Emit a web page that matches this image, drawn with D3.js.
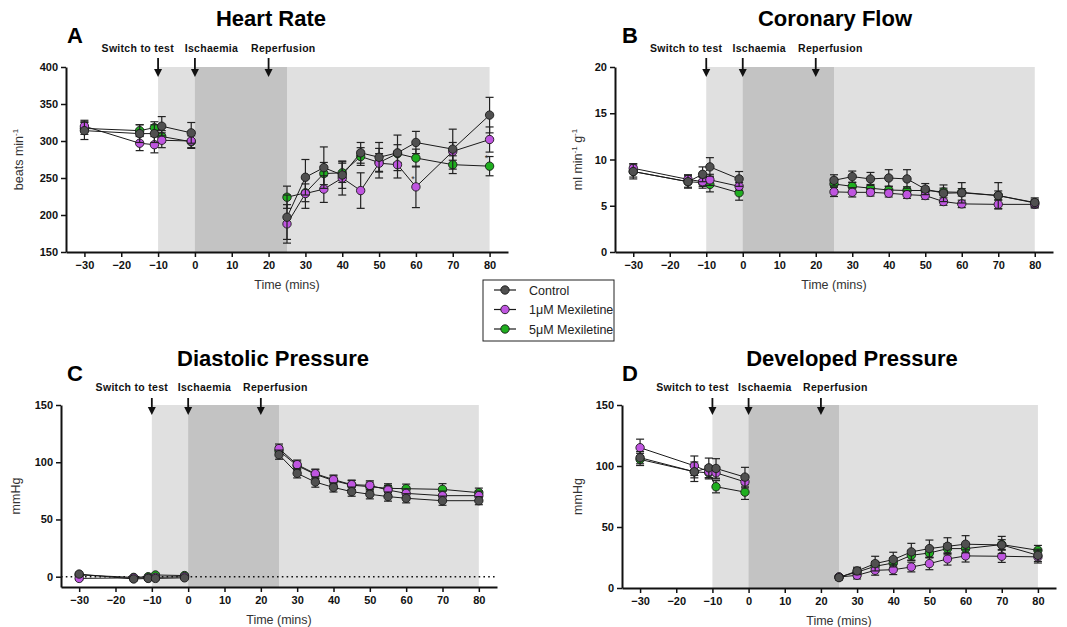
<!DOCTYPE html>
<html>
<meta charset="utf-8">
<style>
body { margin: 0; background: #fff; }
svg text { font-family: "Liberation Sans", Arial, sans-serif; }
.axis text { font-weight: bold; font-size: 11px; fill: #111; }
.axis path, .axis line { stroke: #111; }
</style>
<body>
<svg width="1067" height="627"></svg>
<script src="https://d3js.org/d3.v7.min.js"></script>
<script>

// ---- data ----
var times = [-30, -15, -11, -9, -1, 25, 30, 35, 40, 45, 50, 55, 60, 70, 80];
var seriesNames = ["Control", "1\u03bcM Mexiletine", "5\u03bcM Mexiletine"];
var xTicks = [-30, -20, -10, 0, 10, 20, 30, 40, 50, 60, 70, 80];
var eventNames = ["Switch to test", "Ischaemia", "Reperfusion"];
var eventTimes = [-10, 0, 20];

// heart rate (beats/min)
var hrControl    = [314, 310, 310, 320, 311, 197, 251, 264, 254, 284, 278, 284, 298, 289, 335];
var hrControlErr = [12, 12, 12, 13, 14, 30, 24, 28, 18, 14, 20, 24, 15, 27, 24];
var hrMex1       = [320, 297, 295, 301, 300, 188, 229, 235, 250, 233, 270, 268, 238, 286, 302];
var hrMex1Err    = [8, 10, 11, 10, 10, 26, 20, 18, 23, 24, 20, 18, 28, 12, 17];
var hrMex5       = [317, 314, 318, 306, 299, 224, 230, 256, 257, 279, 271, 283, 277, 268, 266];
var hrMex5Err    = [8, 8, 8, 8, 8, 15, 12, 15, 13, 12, 12, 12, 12, 12, 13];

// coronary flow (ml/min/g)
var cfControl    = [8.7, 7.6, 8.4, 9.2, 7.9, 7.75, 8.15, 7.9, 8.0, 7.9, 6.8, 6.35, 6.4, 6.1, 5.35];
var cfControlErr = [0.8, 0.7, 0.8, 1.0, 0.8, 0.6, 0.6, 0.7, 0.9, 1.0, 0.6, 0.9, 1.1, 1.4, 0.5];
var cfMex1       = [9.05, 7.85, 7.6, 7.8, 7.1, 6.5, 6.45, 6.45, 6.35, 6.2, 6.1, 5.45, 5.2, 5.15, 5.15];
var cfMex1Err    = [0.5, 0.5, 0.5, 0.6, 0.4, 0.5, 0.5, 0.4, 0.4, 0.4, 0.4, 0.4, 0.4, 0.5, 0.4];
var cfMex5       = [8.7, 7.6, 7.5, 7.3, 6.4, 7.35, 7.1, 6.9, 6.7, 6.65, 6.65, 6.5, 6.45, 6.1, 5.3];
var cfMex5Err    = [0.6, 0.6, 0.6, 0.8, 0.8, 0.6, 0.4, 0.4, 0.4, 0.4, 0.4, 0.4, 0.4, 0.5, 0.4];

// diastolic pressure (mmHg)
var dpControl    = [2.3, -2, -1.5, -1.5, -1, 106.6, 90.3, 82.7, 78, 74.3, 72, 70, 68.5, 66.4, 66.4];
var dpControlErr = [1.5, 1.5, 1.2, 1.2, 1.2, 4, 4, 4.5, 4, 4, 4, 4, 4, 4, 3.5];
var dpMex1       = [-1.5, -1, -1, -0.5, 0, 111.9, 97.9, 90, 84.8, 80.4, 79.8, 75.7, 72.8, 70.8, 70.8];
var dpMex1Err    = [1.2, 1.2, 1, 1, 1, 4, 4, 4, 4, 4, 4, 4, 4, 4, 4];
var dpMex5       = [1.5, -0.6, 0, 1.5, 1, 110, 97, 89.4, 84, 80, 78.6, 77.2, 76.9, 76.3, 73.4];
var dpMex5Err    = [1.2, 1.2, 1, 1, 1, 4, 4, 4, 4, 4, 4, 4, 4, 5, 4];

// developed pressure (mmHg)
var devControl    = [106.8, 95.3, 98.5, 98, 90.9, 8.5, 14, 20, 23.3, 29.6, 32.3, 34.2, 35.9, 35.3, 26.8];
var devControlErr = [5, 8, 8, 8, 8, 2, 3, 6, 6, 7, 7, 7, 7, 7, 5];
var devMex1       = [115, 100.2, 95.3, 94.4, 87, 9, 10.4, 14.5, 15, 17.2, 20, 23.8, 26.3, 26, 25.5];
var devMex1Err    = [7, 8, 5, 5, 5, 2, 3, 4, 4, 4, 5, 5, 5, 5, 5];
var devMex5       = [105.4, 95.3, 94.4, 83, 78.6, 9, 13, 17.8, 20.5, 26.8, 28.7, 32.3, 32.3, 35.6, 30.9];
var devMex5Err    = [5, 5, 5, 5, 6, 2, 3, 4, 4, 4, 4, 4, 4, 4, 4];

// ---- styling ----
var colors = ["#505050", "#bf55e0", "#1fae1f"];

var svg = d3.select("svg");

var panels = [
  { letter: "A", title: "Heart Rate", left: 66, right: 508, top: 67, bottom: 252,
    yDomain: [150, 400], yTicks: [150, 200, 250, 300, 350, 400],
    ylabel: [["beats min", ""], ["-1", "sup"]], ylabelX: 23,
    titleX: 271, titleY: 26, letterX: 67, letterY: 43, eventY: 52, arrowTop: 58, arrowBot: 77,
    series: [[hrControl, hrControlErr], [hrMex1, hrMex1Err], [hrMex5, hrMex5Err]],
    stars: [[1, 60], [2, 80]] },
  { letter: "B", title: "Coronary Flow", left: 615, right: 1053, top: 67, bottom: 252,
    yDomain: [0, 20], yTicks: [0, 5, 10, 15, 20],
    ylabel: [["ml min", ""], ["-1", "sup"], [" g", ""], ["-1", "sup"]], ylabelX: 582,
    titleX: 835, titleY: 26, letterX: 622, letterY: 43, eventY: 52, arrowTop: 58, arrowBot: 77,
    series: [[cfControl, cfControlErr], [cfMex1, cfMex1Err], [cfMex5, cfMex5Err]], stars: [] },
  { letter: "C", title: "Diastolic Pressure", left: 61, right: 497, top: 405, bottom: 587,
    yDomain: [-9, 150], yTicks: [0, 50, 100, 150], zeroLine: true,
    ylabel: [["mmHg", ""]], ylabelX: 20,
    titleX: 273, titleY: 366, letterX: 67, letterY: 381, eventY: 391, arrowTop: 398, arrowBot: 415,
    series: [[dpControl, dpControlErr], [dpMex1, dpMex1Err], [dpMex5, dpMex5Err]], stars: [] },
  { letter: "D", title: "Developed Pressure", left: 622, right: 1056, top: 405, bottom: 588,
    yDomain: [0, 150], yTicks: [0, 50, 100, 150],
    ylabel: [["mmHg", ""]], ylabelX: 582,
    titleX: 852, titleY: 366, letterX: 622, letterY: 381, eventY: 391, arrowTop: 398, arrowBot: 415,
    series: [[devControl, devControlErr], [devMex1, devMex1Err], [devMex5, devMex5Err]], stars: [] }
];

var eventLabelAt = [-15.5, 4.5, 24];

panels.forEach(drawPanel);

function drawPanel(p) {
  var x = d3.scaleLinear().domain([-35, 85]).range([p.left, p.right]);
  var y = d3.scaleLinear().domain(p.yDomain).range([p.bottom, p.top]);
  var yMax = p.yDomain[1];
  var g = svg.append("g");

  // shaded protocol periods
  g.append("rect")
      .attr("x", x(-10)).attr("y", y(yMax))
      .attr("width", x(80) - x(-10)).attr("height", y(p.yDomain[0]) - y(yMax))
      .attr("fill", "#e0e0e0");
  g.append("rect")
      .attr("x", x(0)).attr("y", y(yMax))
      .attr("width", x(25) - x(0)).attr("height", y(p.yDomain[0]) - y(yMax))
      .attr("fill", "#c3c3c3");

  if (p.zeroLine) {
    g.append("line")
        .attr("x1", p.left).attr("x2", p.right)
        .attr("y1", y(0)).attr("y2", y(0))
        .attr("stroke", "#111").attr("stroke-width", 1.6)
        .attr("stroke-dasharray", "1.6,3.2");
  }

  // axes
  g.append("g").attr("class", "axis")
      .attr("transform", "translate(0," + p.bottom + ")")
      .call(d3.axisBottom(x).tickValues(xTicks).tickSize(5).tickSizeOuter(0).tickPadding(4))
      .call(function(a) { a.select(".domain").attr("stroke-width", 2); a.selectAll(".tick line").attr("stroke-width", 1.5); });
  g.append("g").attr("class", "axis")
      .attr("transform", "translate(" + p.left + ",0)")
      .call(d3.axisLeft(y).tickValues(p.yTicks).tickSize(5).tickSizeOuter(0).tickPadding(3))
      .call(function(a) { a.select(".domain").attr("stroke-width", 2); a.selectAll(".tick line").attr("stroke-width", 1.5); });

  // axis titles
  g.append("text")
      .attr("x", (p.left + p.right) / 2).attr("y", p.bottom + 37)
      .attr("text-anchor", "middle").attr("font-size", 12.5).attr("fill", "#333")
      .text("Time (mins)");
  var yl = g.append("text")
      .attr("transform", "translate(" + p.ylabelX + "," + ((p.top + p.bottom) / 2) + ") rotate(-90)")
      .attr("text-anchor", "middle").attr("font-size", 12.5).attr("fill", "#333");
  p.ylabel.forEach(function(part) {
    var t = yl.append("tspan").text(part[0]);
    if (part[1] === "sup") t.attr("font-size", 8).attr("dy", -5);
    else if (yl.selectAll("tspan").size() > 1) t.attr("dy", 5);
  });

  // titles
  g.append("text").attr("x", p.titleX).attr("y", p.titleY)
      .attr("text-anchor", "middle").attr("font-size", 22).attr("font-weight", "bold")
      .text(p.title);
  g.append("text").attr("x", p.letterX).attr("y", p.letterY)
      .attr("font-size", 22).attr("font-weight", "bold").text(p.letter);

  // event arrows
  eventNames.forEach(function(name, i) {
    g.append("text").attr("x", x(eventLabelAt[i])).attr("y", p.eventY)
        .attr("text-anchor", "middle").attr("font-size", 10.5).attr("font-weight", "bold")
        .attr("letter-spacing", 0.3).attr("fill", "#111").text(name);
    var ax = x(eventTimes[i]);
    g.append("line").attr("x1", ax).attr("x2", ax)
        .attr("y1", p.arrowTop).attr("y2", p.arrowBot - 6)
        .attr("stroke", "#111").attr("stroke-width", 1.8);
    g.append("path")
        .attr("d", "M" + (ax - 4) + "," + (p.arrowBot - 8) + "L" + (ax + 4) + "," + (p.arrowBot - 8) + "L" + ax + "," + p.arrowBot + "Z")
        .attr("fill", "#111");
  });

  // series: draw 5uM first, control last (on top)
  var line = d3.line().x(function(d) { return x(d.t); }).y(function(d) { return y(d.v); });
  [2, 1, 0].forEach(function(si) {
    var vals = p.series[si][0], errs = p.series[si][1];
    var pts = times.map(function(t, i) { return { t: t, v: vals[i], e: errs[i] }; });
    var sg = g.append("g");
    [pts.filter(function(d) { return d.t < 0; }), pts.filter(function(d) { return d.t > 0; })].forEach(function(seg) {
      sg.append("path").attr("d", line(seg)).attr("fill", "none")
          .attr("stroke", "#1a1a1a").attr("stroke-width", 1);
    });
    var eb = sg.selectAll(".eb").data(pts).enter().append("g");
    eb.append("line")
        .attr("x1", function(d) { return x(d.t); }).attr("x2", function(d) { return x(d.t); })
        .attr("y1", function(d) { return y(d.v - d.e); }).attr("y2", function(d) { return y(d.v + d.e); })
        .attr("stroke", "#222").attr("stroke-width", 1.2);
    [-1, 1].forEach(function(sgn) {
      eb.append("line")
          .attr("x1", function(d) { return x(d.t) - 4; }).attr("x2", function(d) { return x(d.t) + 4; })
          .attr("y1", function(d) { return y(d.v + sgn * d.e); }).attr("y2", function(d) { return y(d.v + sgn * d.e); })
          .attr("stroke", "#222").attr("stroke-width", 1.2);
    });
    sg.selectAll("circle").data(pts).enter().append("circle")
        .attr("cx", function(d) { return x(d.t); })
        .attr("cy", function(d) { return y(d.v); })
        .attr("r", 4.2)
        .attr("fill", colors[si]).attr("stroke", "#1a1a1a").attr("stroke-width", 0.9);
  });

  // significance stars
  p.stars.forEach(function(s) {
    var si = s[0], i = times.indexOf(s[1]);
    g.append("text").attr("x", x(s[1]) - 3).attr("y", y(p.series[si][0][i]) - 5)
        .attr("text-anchor", "middle").attr("font-size", 9).attr("fill", "#333").text("*");
  });
}

// legend
var legend = svg.append("g").attr("transform", "translate(483,280)");
legend.append("rect").attr("width", 131).attr("height", 61)
    .attr("fill", "#fff").attr("stroke", "#222").attr("stroke-width", 1);
seriesNames.forEach(function(name, i) {
  var ly = 10 + i * 19.5;
  legend.append("line").attr("x1", 11).attr("x2", 33).attr("y1", ly).attr("y2", ly)
      .attr("stroke", "#1a1a1a").attr("stroke-width", 1.2);
  legend.append("circle").attr("cx", 22).attr("cy", ly).attr("r", 4.2)
      .attr("fill", colors[i]).attr("stroke", "#1a1a1a").attr("stroke-width", 0.9);
  legend.append("text").attr("x", 46).attr("y", ly + 4.5)
      .attr("font-size", 12.5).attr("fill", "#222").text(name);
});

</script>
</body>
</html>
